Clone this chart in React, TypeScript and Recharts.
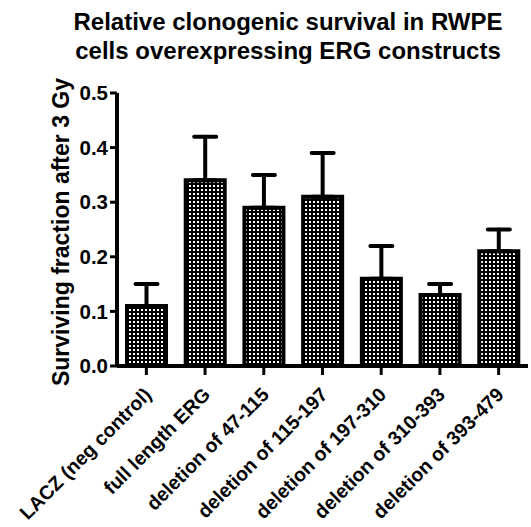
import React from 'react';
import { BarChart, Bar, XAxis, YAxis, ErrorBar } from 'recharts';

const categories = [
  'LACZ (neg control)',
  'full length ERG',
  'deletion of 47-115',
  'deletion of 115-197',
  'deletion of 197-310',
  'deletion of 310-393',
  'deletion of 393-479',
];
const survival = [0.11, 0.34, 0.29, 0.31, 0.16, 0.13, 0.21];
const errorUp = [0.04, 0.08, 0.06, 0.08, 0.06, 0.02, 0.04];
const yTicks = [0, 0.1, 0.2, 0.3, 0.4, 0.5];
const titleLines = ['Relative clonogenic survival in RWPE', 'cells overexpressing ERG constructs'];
const yLabel = 'Surviving fraction after 3 Gy';

const data = categories.map((name, i) => ({
  name,
  value: survival[i],
  err: [0, errorUp[i]],
}));

const FONT = '"Liberation Sans", Arial, sans-serif';

const XTick = (props: any) => {
  const { x, y, payload } = props;
  return (
    <g transform={`translate(${x - 5},${y + 16})`}>
      <text
        x={0}
        y={0}
        dx={6}
        dy={10}
        transform="rotate(-45)"
        textAnchor="end"
        fontFamily={FONT}
        fontWeight="bold"
        fontSize={19.5}
        fill="#000"
      >
        {payload.value}
      </text>
    </g>
  );
};

export default function App() {
  return (
    <div style={{ position: 'absolute', left: 0, top: 0, width: 531, height: 527, background: '#fff' }}>
      <BarChart
        width={531}
        height={527}
        data={data}
        margin={{ top: 93, right: 3, left: 57, bottom: 131 }}
        barSize={39}
      >
        <defs>
          <pattern id="dots" width="4" height="4" patternUnits="userSpaceOnUse">
            <rect x="0" y="0" width="4" height="4" fill="#000" />
            <rect x="1" y="1" width="2" height="2" fill="#fff" />
          </pattern>
        </defs>
        <XAxis
          dataKey="name"
          interval={0}
          height={30}
          tick={<XTick />}
          tickSize={9}
          tickLine={{ stroke: '#000', strokeWidth: 3 }}
          axisLine={{ stroke: '#000', strokeWidth: 4 }}
        />
        <YAxis
          width={60}
          domain={[0, 0.5]}
          ticks={yTicks}
          interval={0}
          tickFormatter={(v: number) => v.toFixed(1)}
          tickSize={7}
          tickMargin={2}
          tick={{ fill: '#000', fontSize: 20.5, fontWeight: 'bold', fontFamily: FONT }}
          tickLine={{ stroke: '#000', strokeWidth: 3 }}
          axisLine={{ stroke: '#000', strokeWidth: 4 }}
        />
        <Bar
          dataKey="value"
          fill="url(#dots)"
          stroke="#000"
          strokeWidth={4}
          isAnimationActive={false}
        >
          <ErrorBar
            dataKey="err"
            direction="y"
            width={11}
            stroke="#000"
            strokeWidth={4}
            strokeLinecap="round"
            isAnimationActive={false}
          />
        </Bar>
      </BarChart>
      <svg
        width={531}
        height={527}
        style={{ position: 'absolute', left: 0, top: 0, pointerEvents: 'none' }}
      >
        {titleLines.map((t, i) => (
          <text
            key={i}
            x={288}
            y={30 + i * 29}
            textAnchor="middle"
            fontFamily={FONT}
            fontWeight="bold"
            fontSize={24}
            fill="#000"
          >
            {t}
          </text>
        ))}
        <text
          x={0}
          y={0}
          transform="translate(69,232) rotate(-90)"
          textAnchor="middle"
          fontFamily={FONT}
          fontWeight="bold"
          fontSize={23}
          fill="#000"
        >
          {yLabel}
        </text>
      </svg>
    </div>
  );
}
